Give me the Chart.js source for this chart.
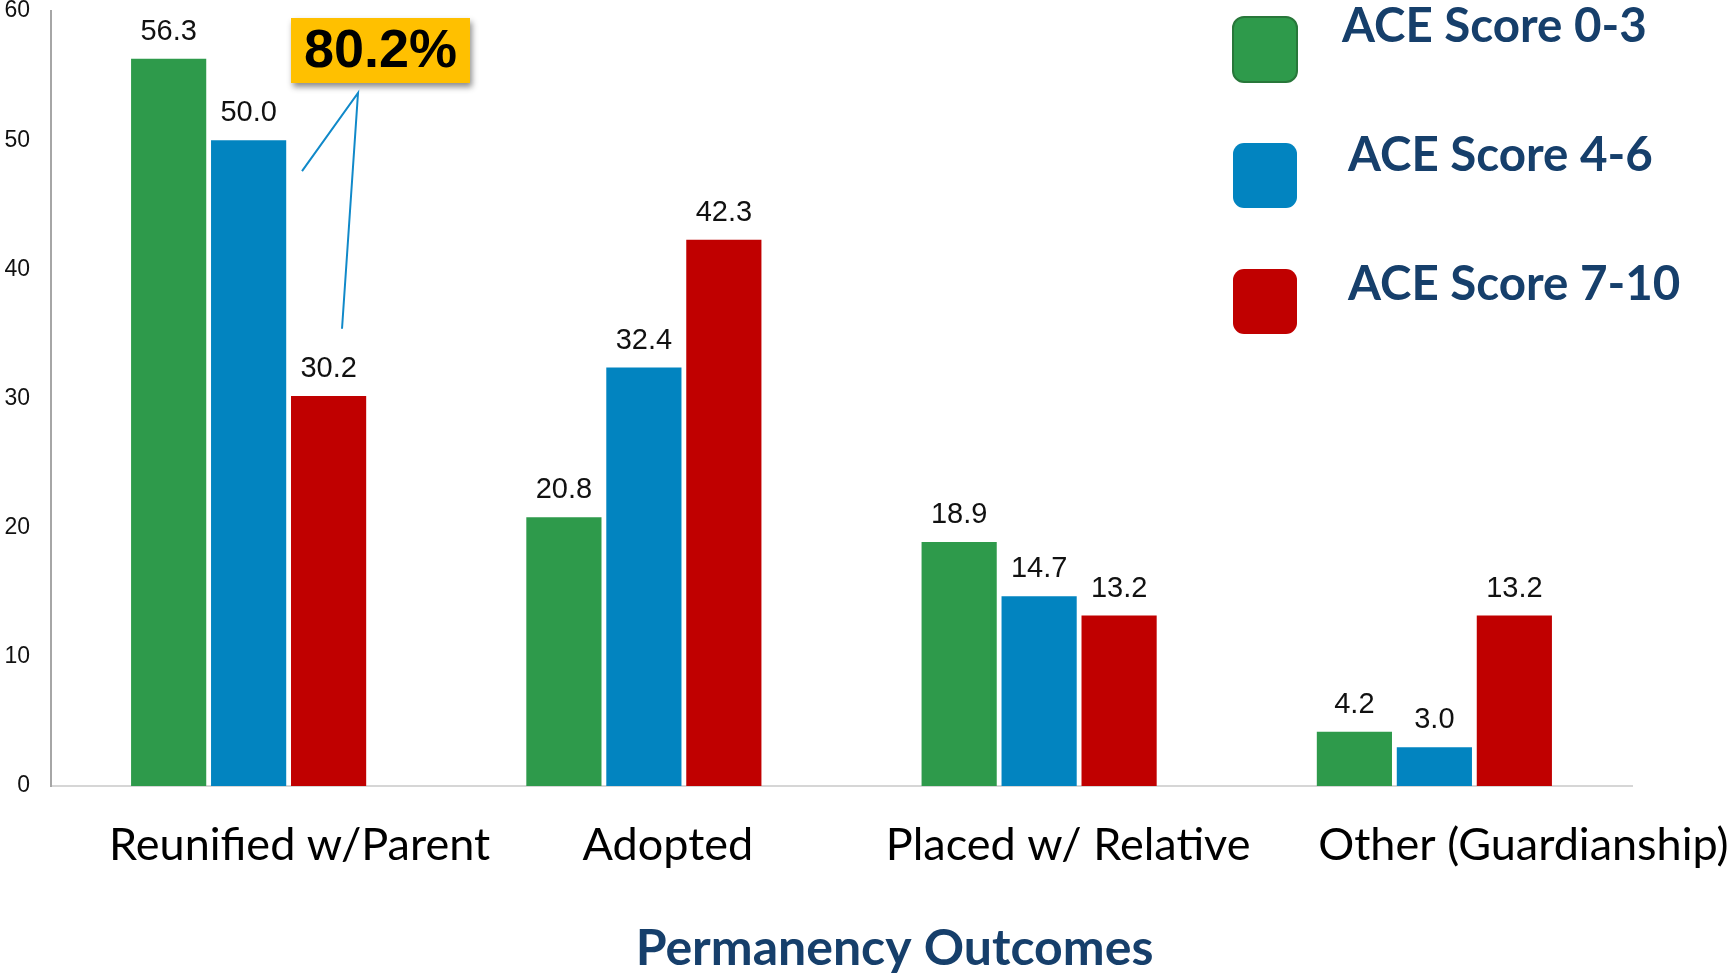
<!DOCTYPE html>
<html>
<head>
<meta charset="utf-8">
<script src="https://cdn.jsdelivr.net/npm/chart.js@4/dist/chart.umd.min.js"></script>
<style>
  html, body { margin: 0; padding: 0; background: #fff; }
  #wrap { width: 1735px; height: 974px; position: relative; }
</style>
</head>
<body>
<div id="wrap"><canvas id="outcomesChart"></canvas></div>
<script>
const CATEGORIES = ["Reunified w/Parent", "Adopted", "Placed w/ Relative", "Other (Guardianship)"];
const SERIES_LABELS = ["ACE Score 0-3", "ACE Score 4-6", "ACE Score 7-10"];
const ACE_0_3 = [56.3, 20.8, 18.9, 4.2];
const ACE_4_6 = [50.0, 32.4, 14.7, 3.0];
const ACE_7_10 = [30.2, 42.3, 13.2, 13.2];
const Y_TICKS = [0, 10, 20, 30, 40, 50, 60];
const X_TITLE = "Permanency Outcomes";
const CALLOUT_TEXT = "80.2%";

const COLORS = ["#2e9a4b", "#0284c0", "#c00000"];
const NAVY = "#163f6b";
// the category captions sit a little right of their bar groups in the original
const LABEL_SHIFT = [51, 24, 29, 89];

// value labels over each bar
const valueLabels = {
  id: "valueLabels",
  afterDatasetsDraw(chart) {
    const ctx = chart.ctx;
    ctx.save();
    ctx.font = "29px 'Liberation Sans', Arial, sans-serif";
    ctx.fillStyle = "#111";
    ctx.textAlign = "center";
    ctx.textBaseline = "alphabetic";
    chart.data.datasets.forEach((ds, i) => {
      chart.getDatasetMeta(i).data.forEach((bar, j) => {
        ctx.fillText(ds.data[j].toFixed(1), bar.x, bar.y - 19);
      });
    });
    ctx.restore();
  },
};

// category captions + axis title under the x axis
const xCaptions = {
  id: "xCaptions",
  afterDraw(chart) {
    const ctx = chart.ctx;
    const x = chart.scales.x;
    ctx.save();
    ctx.textAlign = "center";
    ctx.textBaseline = "alphabetic";
    ctx.fillStyle = "#000";
    ctx.font = "45px Lato, 'Open Sans', sans-serif";
    chart.data.labels.forEach((label, i) => {
      ctx.fillText(label, x.getPixelForTick(i) + LABEL_SHIFT[i], x.top + 74);
    });
    ctx.fillStyle = NAVY;
    ctx.font = "bold 50px Lato, 'Open Sans', sans-serif";
    ctx.fillText(X_TITLE, (x.left + x.right) / 2 + 53, x.top + 179);
    ctx.restore();
  },
};

// right-hand legend with big rounded swatches
const bigLegend = {
  id: "bigLegend",
  afterDraw(chart) {
    const ctx = chart.ctx;
    const x0 = chart.chartArea.right - 399;
    ctx.save();
    chart.data.datasets.forEach((ds, i) => {
      const top = 17 + i * 126;
      ctx.beginPath();
      ctx.roundRect(x0, top, 64, 65, 11);
      ctx.fillStyle = ds.backgroundColor;
      ctx.fill();
      if (i === 0) {
        ctx.lineWidth = 2;
        ctx.strokeStyle = "#28773a";
        ctx.stroke();
      }
      ctx.font = "bold 47.5px Lato, 'Open Sans', sans-serif";
      ctx.fillStyle = NAVY;
      ctx.textAlign = "left";
      ctx.textBaseline = "alphabetic";
      ctx.fillText(ds.label, x0 + 109 + (i > 0 ? 6 : 0), 42 + i * 129);
    });
    ctx.restore();
  },
};

// yellow "80.2%" callout pointing at the blue and red bars of the first group
const callout = {
  id: "callout",
  afterDatasetsDraw(chart) {
    const ctx = chart.ctx;
    const y = chart.scales.y;
    const red = chart.getDatasetMeta(2).data[0];
    const left = red.x - red.width / 2;
    const boxTop = 18, boxW = 179, boxH = 65;
    ctx.save();
    ctx.shadowColor = "rgba(0,0,0,0.45)";
    ctx.shadowBlur = 6;
    ctx.shadowOffsetX = 2;
    ctx.shadowOffsetY = 4;
    ctx.fillStyle = "#ffc000";
    ctx.fillRect(left, boxTop, boxW, boxH);
    ctx.restore();

    ctx.save();
    ctx.font = "bold 54px 'Liberation Sans', Arial, sans-serif";
    ctx.fillStyle = "#000";
    ctx.textAlign = "center";
    ctx.textBaseline = "middle";
    ctx.fillText(CALLOUT_TEXT, left + boxW / 2, boxTop + boxH / 2 + 2);

    const apexX = left + 67, apexY = boxTop + boxH + 10;
    ctx.strokeStyle = "#1089c9";
    ctx.lineWidth = 2;
    ctx.beginPath();
    ctx.moveTo(left + 11, y.getPixelForValue(47.6));
    ctx.lineTo(apexX, apexY);
    ctx.lineTo(left + 51, y.getPixelForValue(35.4));
    ctx.stroke();
    ctx.restore();
  },
};

new Chart(document.getElementById("outcomesChart"), {
  type: "bar",
  data: {
    labels: CATEGORIES,
    datasets: [
      { label: SERIES_LABELS[0], data: ACE_0_3, backgroundColor: COLORS[0] },
      { label: SERIES_LABELS[1], data: ACE_4_6, backgroundColor: COLORS[1] },
      { label: SERIES_LABELS[2], data: ACE_7_10, backgroundColor: COLORS[2] },
    ],
  },
  options: {
    responsive: true,
    maintainAspectRatio: false,
    animation: false,
    datasets: { bar: { categoryPercentage: 0.607, barPercentage: 0.94 } },
    layout: { padding: { top: 0, right: 103, bottom: 0, left: 0 } },
    plugins: {
      legend: { display: false },
      tooltip: { enabled: false },
    },
    scales: {
      x: {
        afterFit(scale) {
          scale.height = 188;
          scale.paddingLeft = 0;
          scale.paddingRight = 0;
        },
        grid: { display: false, drawTicks: false },
        border: { display: true, color: "#d6d6d6", width: 2 },
        ticks: { display: false },
        title: { display: false },
      },
      y: {
        min: 0,
        max: 60,
        afterFit(scale) {
          scale.width = 51;
          scale.paddingTop = 11;
          scale.paddingBottom = 0;
        },
        afterBuildTicks(scale) { scale.ticks = Y_TICKS.map((v) => ({ value: v })); },
        grid: { display: false, drawTicks: false },
        border: { display: true, color: "#a6a6a6", width: 2 },
        ticks: {
          color: "#111",
          padding: 21,
          font: { family: "'Liberation Sans', Arial, sans-serif", size: 23 },
        },
      },
    },
  },
  plugins: [valueLabels, callout, xCaptions, bigLegend],
});
</script>
</body>
</html>
